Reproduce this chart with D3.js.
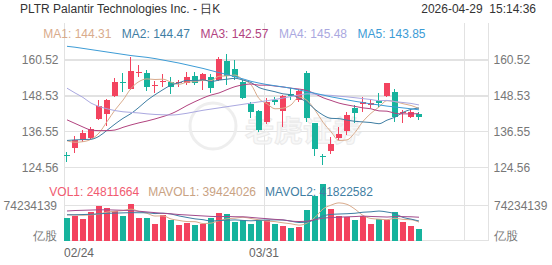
<!DOCTYPE html>
<html>
<head>
<meta charset="utf-8">
<script src="https://cdn.jsdelivr.net/npm/d3@7"></script>
<style>
  body { margin: 0; background: #fff; }
  svg { font-family: Arial, "Liberation Sans", sans-serif; }
</style>
</head>
<body>
<svg id="chart" width="552" height="265"></svg>
<script>
// daily candles, 2026-02-24 .. 2026-04-28
const dates = ["02/24","02/25","02/26","02/27","03/02","03/03","03/04","03/05","03/06","03/09",
  "03/10","03/11","03/12","03/13","03/16","03/17","03/18","03/19","03/20","03/23",
  "03/24","03/25","03/26","03/27","03/30","03/31","04/01","04/02","04/06","04/07",
  "04/08","04/09","04/10","04/13","04/14","04/15","04/16","04/17","04/20","04/21",
  "04/22","04/23","04/24","04/27","04/28"];

const open  = [128.6,131.0,133.8,134.4,140.8,142.4,148.6,153.3,150.7,156.1,156.3,151.8,153.1,153.3,152.7,
  152.7,155.2,153.5,154.9,153.8,160.2,157.4,153.3,145.8,143.6,139.9,147.2,143.6,149.2,147.2,
  156.3,139.4,128.4,130.2,134.4,136.9,144.4,145.8,145.5,146.9,148.5,149.9,142.7,141.6,142.4];
const high  = [129.8,135.1,137.1,138.0,147.2,147.6,154.4,156.3,161.4,158.9,157.2,153.6,155.8,154.7,153.8,
  156.6,156.6,156.3,155.8,161.4,162.5,160.5,153.8,146.6,143.8,147.7,148.3,148.8,151.2,150.7,
  157.0,139.6,129.1,134.7,138.0,143.2,145.5,148.3,147.4,149.6,152.9,150.7,143.8,143.8,143.2];
const low   = [126.5,129.3,133.2,134.0,140.5,138.5,148.3,149.9,150.5,154.9,150.3,149.6,151.4,149.2,151.4,
  152.2,152.2,150.5,149.4,153.6,152.2,153.8,147.4,141.0,136.6,139.1,145.5,138.2,147.2,146.6,
  139.9,128.4,125.4,129.1,133.8,135.5,139.6,143.2,144.4,144.9,148.3,139.9,139.4,141.0,140.5];
const close = [128.3,133.8,136.0,137.4,145.1,147.2,153.1,152.9,156.9,156.6,151.4,152.2,153.6,151.6,153.3,
  154.9,152.9,155.8,151.1,160.9,155.2,154.7,147.7,143.2,137.1,146.6,146.6,148.5,148.5,150.3,
  141.0,130.7,128.1,132.4,135.8,142.1,142.9,146.6,146.0,146.2,152.7,141.6,143.2,143.0,141.4];

// volume, millions of shares
const volume = [48.8,53.0,46.0,61.5,74.2,68.5,63.0,52.4,77.0,48.8,48.8,34.6,54.5,43.9,33.3,
  36.7,33.3,34.6,48.8,58.8,56.6,40.3,43.9,36.1,43.9,43.9,34.6,31.2,26.1,29.1,
  65.8,95.4,119.6,67.2,53.0,50.3,44.5,53.0,34.6,46.0,44.5,60.0,40.3,31.8,24.81];

// moving averages
const ma1 = [133.5,133.0,133.2,134.0,136.1,139.9,143.8,147.1,151.0,153.3,154.2,154.0,154.1,153.1,152.4,
  153.1,153.3,153.7,153.6,155.1,155.2,155.5,153.9,152.3,147.6,145.9,144.2,144.4,145.5,148.1,
  147.0,143.8,139.7,136.5,133.6,133.8,136.3,140.0,142.7,144.8,146.9,146.6,145.9,145.3,144.31];
const ma2 = [133.6,133.8,133.9,134.0,135.0,137.0,139.1,141.0,142.6,144.7,147.0,148.9,150.6,152.1,152.9,
  153.7,153.6,153.9,153.3,153.8,154.1,154.4,153.8,153.0,151.3,150.5,149.9,149.2,148.9,147.8,
  146.4,144.0,142.1,141.0,140.9,140.4,140.0,139.8,139.6,139.2,140.4,141.4,143.0,144.0,144.47];
const ma3 = [140.5,139.3,138.1,137.1,136.9,136.9,137.1,138.0,138.8,139.5,140.1,140.8,141.6,142.5,143.8,
  145.3,146.6,147.8,148.8,149.5,150.6,151.6,152.2,152.5,152.1,152.1,151.8,151.5,151.1,150.8,
  150.3,149.2,147.9,147.0,146.1,145.5,145.0,144.5,144.2,143.5,143.4,142.7,142.5,142.5,142.57];
const ma4 = [151.1,149.5,148.0,146.1,145.0,144.2,143.6,143.2,143.0,142.8,142.5,142.3,142.2,142.1,142.3,
  142.7,143.2,143.7,144.1,144.5,144.9,145.3,145.7,146.1,146.5,146.9,147.3,147.8,148.3,148.8,
  149.2,149.1,148.8,148.7,148.4,148.2,147.9,147.6,147.3,146.9,147.0,146.6,146.3,146.0,145.48];
const ma5 = [165.1,164.8,164.4,164.0,163.6,163.2,162.8,162.4,162.0,161.7,161.4,161.0,160.5,160.0,159.5,
  158.9,158.3,157.7,157.0,156.3,155.7,154.9,154.2,153.4,152.8,152.3,151.9,151.5,151.1,150.5,
  149.9,149.4,148.8,148.2,147.7,147.2,146.7,146.3,145.8,145.5,145.1,144.8,144.5,144.2,143.85];

const mavol1 = [55.0,54.5,54.0,55.0,56.7,60.6,62.6,63.9,67.0,61.9,58.0,52.3,52.7,46.1,43.0,
  40.6,40.3,36.4,37.3,42.4,46.4,47.8,49.7,47.1,44.2,41.6,40.5,37.9,35.9,33.0,
  37.4,49.5,67.2,75.4,80.2,77.1,66.9,53.6,47.1,45.7,44.5,47.6,45.1,44.5,39.42];
const mavol2 = [55.0,55.0,55.5,56.0,57.0,58.0,58.5,59.0,59.5,59.3,59.3,57.5,58.3,56.6,52.5,
  49.3,46.3,44.6,41.7,42.7,43.5,44.1,43.0,42.2,43.3,44.0,44.2,43.8,41.5,38.6,
  39.5,45.0,52.6,55.7,56.6,57.2,58.2,60.4,61.3,62.9,60.8,57.3,49.3,45.8,41.82];
const mavol3 = [63.0,64.0,64.5,65.0,65.5,65.5,65.0,64.5,64.0,62.5,61.0,59.5,58.0,57.0,55.5,
  54.5,53.5,52.5,51.5,51.0,51.4,50.8,50.7,49.4,47.9,46.7,45.2,44.2,41.6,40.7,
  41.5,44.5,47.8,49.0,49.9,50.6,51.2,52.1,51.4,50.8,50.2,51.1,51.0,50.7,49.8];

const priceTicks = [124.56, 136.55, 148.53, 160.52];
const volTickLabel = "74234139";
const volTickValue = 74.234139;
const dateTicks = [0, 25];

const maNames  = ["MA1", "MA2", "MA3", "MA4", "MA5"];
const maValues = ["144.31", "144.47", "142.57", "145.48", "143.85"];
const volNames  = ["VOL1", "MAVOL1", "MAVOL2"];
const volValues = ["24811664", "39424026", "41822582"];

const UP = "#f3435f", DOWN = "#16b39d";
const maColors = ["#d9ab8c", "#3f7ea3", "#b2437f", "#aaa8e0", "#3d9cd6"];
const volLegendColors = ["#f15a70", "#c9a283", "#3f7ea3"];
const volLineColors = ["#d9ab8c", "#3f7ea3", "#a24b8c"];

const svg = d3.select("#chart");
const plotLeft = 64, plotRight = 488.5, plotTop = 23, plotBottom = 240.7;

const x = d3.scaleBand().domain(d3.range(53)).range([63, 487]);
const cx = i => x(i) + x.bandwidth() / 2;
const y = d3.scaleLinear().domain([124.56, 160.52]).range([167.5, 60]);
const yv = d3.scaleLinear().domain([0, volTickValue]).range([plotBottom, 205.7]);

// header
svg.append("text").attr("x", 20).attr("y", 12.5).attr("font-size", 12).attr("fill", "#333")
  .text("PLTR Palantir Technologies Inc. - 日K");
svg.append("text").attr("x", 536).attr("y", 12.5).attr("font-size", 12).attr("fill", "#333")
  .attr("text-anchor", "end").style("white-space", "pre").text("2026-04-29  15:14:36");

// grid
const grid = svg.append("g").attr("stroke", "#e2e2e2").attr("stroke-width", 1).attr("shape-rendering", "crispEdges");
[0, 25, 50].forEach(i => {
  grid.append("line").attr("x1", x(i) + 1).attr("x2", x(i) + 1).attr("y1", plotTop).attr("y2", plotBottom);
});
grid.append("line").attr("x1", plotRight).attr("x2", plotRight).attr("y1", plotTop).attr("y2", plotBottom);
priceTicks.forEach(p => {
  grid.append("line").attr("x1", plotLeft).attr("x2", plotRight).attr("y1", y(p)).attr("y2", y(p)).attr("stroke-width", 1.5);
});
grid.append("line").attr("x1", plotLeft).attr("x2", plotRight).attr("y1", yv(volTickValue)).attr("y2", yv(volTickValue));
grid.append("line").attr("x1", plotLeft).attr("x2", plotRight).attr("y1", yv(0)).attr("y2", yv(0));

// watermark
const wm = svg.append("g").attr("opacity", 0.9);
wm.append("circle").attr("cx", 213).attr("cy", 126).attr("r", 23)
  .attr("fill", "none").attr("stroke", "#ededed").attr("stroke-width", 3);
wm.append("text").attr("x", 245).attr("y", 142).attr("font-size", 29).attr("font-weight", "bold")
  .attr("font-family", "'Noto Sans CJK SC', sans-serif")
  .attr("fill", "#f8f8f8").attr("stroke", "#e9e9e9").attr("stroke-width", 1).text("老虎证券");

// axis labels
const axisText = (g, xx, yy, anchor, t) => g.append("text").attr("x", xx).attr("y", yy)
  .attr("text-anchor", anchor).attr("font-size", 12).attr("fill", "#777").text(t);
const labels = svg.append("g");
priceTicks.forEach(p => {
  axisText(labels, 58.5, y(p) + 4.3, "end", p.toFixed(2));
  axisText(labels, 493.5, y(p) + 4.3, "start", p.toFixed(2));
});
axisText(labels, 57, yv(volTickValue) + 4.5, "end", volTickLabel);
axisText(labels, 494, yv(volTickValue) + 4.5, "start", volTickLabel);
axisText(labels, 57, 240, "end", "亿股");
axisText(labels, 494, 240, "start", "亿股");
dateTicks.forEach((i, k) => {
  axisText(labels, x(i) + 1, 257, k === 0 ? "start" : "middle", dates[i]).attr("fill", "#666");
});

// candles
const idx = d3.range(dates.length);
const isUp = i => close[i] >= open[i];
const candles = svg.append("g").attr("shape-rendering", "crispEdges");
candles.selectAll(".wick").data(idx).enter().append("line")
  .attr("x1", i => cx(i) - 0.5).attr("x2", i => cx(i) - 0.5)
  .attr("y1", i => y(high[i])).attr("y2", i => y(low[i]))
  .attr("stroke", i => isUp(i) ? UP : DOWN).attr("stroke-width", 1);
candles.selectAll(".body").data(idx).enter().append("rect")
  .attr("x", i => cx(i) - 3).attr("width", 6)
  .attr("y", i => y(Math.max(open[i], close[i])))
  .attr("height", i => Math.max(1, Math.abs(y(open[i]) - y(close[i]))))
  .attr("fill", i => isUp(i) ? UP : DOWN);

// MA lines
const line = d3.line().x((d, i) => cx(i)).y(d => y(d)).curve(d3.curveMonotoneX);
[ma1, ma2, ma3, ma4, ma5].forEach((s, k) => {
  svg.append("path").datum(s).attr("d", line).attr("fill", "none")
    .attr("stroke", maColors[k]).attr("stroke-width", 1);
});

// volume bars
svg.append("g").attr("shape-rendering", "crispEdges").selectAll("rect").data(idx).enter().append("rect")
  .attr("x", i => cx(i) - 3).attr("width", 6)
  .attr("y", i => yv(volume[i])).attr("height", i => yv(0) - yv(volume[i]))
  .attr("fill", i => isUp(i) ? UP : DOWN);

const vline = d3.line().x((d, i) => cx(i)).y(d => yv(d)).curve(d3.curveMonotoneX);
[mavol1, mavol2, mavol3].forEach((s, k) => {
  svg.append("path").datum(s).attr("d", vline).attr("fill", "none")
    .attr("stroke", volLineColors[k]).attr("stroke-width", 1);
});

// legends
function legendRow(names, values, colors, x0, yy, gap) {
  let xx = x0;
  names.forEach((n, k) => {
    const t = svg.append("text").attr("x", xx).attr("y", yy).attr("font-size", 12)
      .attr("fill", colors[k]).style("white-space", "pre").text(n + ": " + values[k]);
    xx += t.node().getComputedTextLength() + gap;
  });
}
legendRow(maNames, maValues, maColors, 43.3, 38.3, 10.5);
legendRow(volNames, volValues, volLegendColors, 49.3, 195.7, 9);
</script>
</body>
</html>
